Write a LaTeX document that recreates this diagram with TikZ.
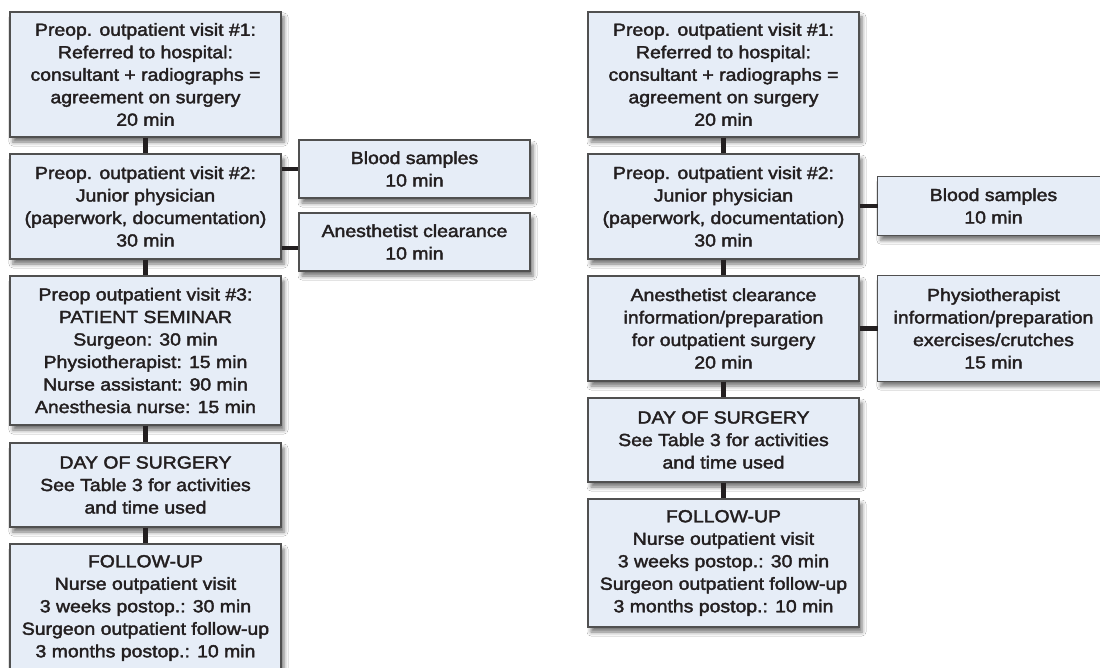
\documentclass[tikz,border=0pt]{standalone}
\usepackage{fontspec}
\setmainfont{Liberation Sans}[FakeStretch=1.11, FakeBold=2.2]
\usetikzlibrary{shadows.blur,backgrounds}
\definecolor{boxfill}{HTML}{E6EDF7}
\definecolor{boxline}{HTML}{505050}
\definecolor{ink}{HTML}{231F20}
\tikzset{
  boxshape/.style={draw=boxline, line width=1.1pt, fill=boxfill,
    blur shadow={shadow xshift=3pt, shadow yshift=-5pt, shadow blur radius=4pt, shadow opacity=55}},
  boxtext/.style={align=center, inner sep=0pt, text=ink, font=\fontsize{17.5}{22.5}\selectfont},
  box/.style={boxshape, boxtext},
  wide/.style={box, minimum width=271pt},
  side/.style={box, minimum width=231pt},
  sidecut/.style={boxtext, minimum width=231pt},
  conn/.style={draw=ink, line width=4.6pt},
}
\begin{document}
\begin{tikzpicture}[x=1pt,y=-1pt]
\useasboundingbox (0,0) rectangle (1100,668);
\clip (0,0) rectangle (1100,668);

% left column
\node[wide, minimum height=125pt] (L1) at (145.5,74.5) {Preop. outpatient visit \#1:\\Referred to hospital:\\consultant + radiographs =\\agreement on surgery\\20 min};
\node[wide, minimum height=105pt] (L2) at (145.5,206.5) {Preop. outpatient visit \#2:\\Junior physician\\(paperwork, documentation)\\30 min};
\node[side, minimum height=58pt] (LB) at (414.5,169) {Blood samples\\10 min};
\node[side, minimum height=58pt] (LA) at (414.5,242) {Anesthetist clearance\\10 min};
\node[wide, minimum height=149pt] (L3) at (145.5,350.5) {Preop outpatient visit \#3:\\PATIENT SEMINAR\\Surgeon: 30 min\\Physiotherapist: 15 min\\Nurse assistant: 90 min\\Anesthesia nurse: 15 min};
\node[wide, minimum height=84pt] (L4) at (145.5,485) {DAY OF SURGERY\\See Table 3 for activities\\and time used};
\node[wide, minimum height=128pt] (L5) at (145.5,608) {FOLLOW-UP\\Nurse outpatient visit\\3 weeks postop.: 30 min\\Surgeon outpatient follow-up\\3 months postop.: 10 min};

% right column
\node[wide, minimum height=125pt] (R1) at (723.5,74.5) {Preop. outpatient visit \#1:\\Referred to hospital:\\consultant + radiographs =\\agreement on surgery\\20 min};
\node[wide, minimum height=105pt] (R2) at (723.5,206.5) {Preop. outpatient visit \#2:\\Junior physician\\(paperwork, documentation)\\30 min};
\node[sidecut, minimum height=58pt] (RB) at (993.5,206) {Blood samples\\10 min};
\node[wide, minimum height=105pt] (R3) at (723.5,328.5) {Anesthetist clearance\\information/preparation\\for outpatient surgery\\20 min};
\node[sidecut, minimum height=105pt] (RP) at (993.5,328.5) {Physiotherapist\\information/preparation\\exercises/crutches\\15 min};
\node[wide, minimum height=84pt] (R4) at (723.5,440) {DAY OF SURGERY\\See Table 3 for activities\\and time used};
\node[wide, minimum height=128pt] (R5) at (723.5,563) {FOLLOW-UP\\Nurse outpatient visit\\3 weeks postop.: 30 min\\Surgeon outpatient follow-up\\3 months postop.: 10 min};

% right side boxes run past the picture's right edge
\begin{scope}[on background layer]
\fill[white] (0,0) rectangle (1100,668);
\path[boxshape] (RB.north west) rectangle ([xshift=40pt]RB.south east);
\path[boxshape] (RP.north west) rectangle ([xshift=40pt]RP.south east);
\end{scope}

% connectors left
\draw[conn] (L1.south) -- (L2.north);
\draw[conn] (L2.south) -- (L3.north);
\draw[conn] (L3.south) -- (L4.north);
\draw[conn] (L4.south) -- (L5.north);
\draw[conn] (L2.east |- LB.west) -- (LB.west);
\draw[conn] ([yshift=-6pt]L2.east |- LA.west) -- ([yshift=-6pt]LA.west);

% connectors right
\draw[conn] (R1.south) -- (R2.north);
\draw[conn] (R2.south) -- (R3.north);
\draw[conn] (R3.south) -- (R4.north);
\draw[conn] (R4.south) -- (R5.north);
\draw[conn] (R2.east |- RB.west) -- (RB.west);
\draw[conn] (R3.east) -- (RP.west);
\end{tikzpicture}
\end{document}
